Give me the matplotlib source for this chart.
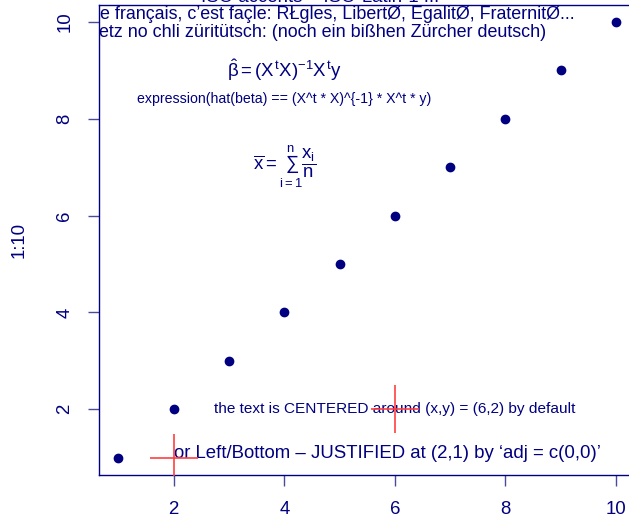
import matplotlib
matplotlib.use("Agg")
import matplotlib.pyplot as plt

plt.rcParams['font.family'] = ['Liberation Sans', 'DejaVu Sans']
plt.rcParams['mathtext.fontset'] = 'custom'
plt.rcParams['mathtext.rm'] = 'Liberation Sans'
plt.rcParams['mathtext.it'] = 'Liberation Sans'
plt.rcParams['mathtext.sf'] = 'Liberation Sans'

# donnees
x_vals = [1, 2, 3, 4, 5, 6, 7, 8, 9, 10]
y_vals = [1, 2, 3, 4, 5, 6, 7, 8, 9, 10]
cross_x = [6, 2]
cross_y = [2, 1]
ticks = [2, 4, 6, 8, 10]

titre = "ISO accents + ISO-Latin-1 ..."
ligne_fr = "Le français, c’est façle: RŁgles, LibertØ, EgalitØ, FraternitØ..."
ligne_de = "Jetz no chli züritütsch: (noch ein bißhen Zürcher deutsch)"
txt_centre = "the text is CENTERED around (x,y) = (6,2) by default"
txt_gauche = "or Left/Bottom – JUSTIFIED at (2,1) by ‘adj = c(0,0)’"
txt_expr = "expression(hat(beta) == (X^t * X)^{-1} * X^t * y)"
formule_beta = r"$\hat{\beta} = (X^tX)^{-1}X^ty$"
formule_xbar = r"$\overline{x} = \sum_{i=1}^{n}\dfrac{x_i}{n}$"

bleu = 'navy'
W, H = 629, 519
fs = 13.4

fig = plt.figure(figsize=(W / 100, H / 100), dpi=100)
# la boite depasse a droite comme dans l'original
ax = fig.add_axes([98.5 / W, (H - 475) / H, (636 - 98.5) / W, (475 - 4.6) / H])

ax.plot(x_vals, y_vals, 'o', color=bleu, ms=6, zorder=3)
ax.plot(cross_x, cross_y, '+', color='#ff4040', ms=34, mew=1.2, zorder=5)

ax.set_xlim(0.64, 10.36)
ax.set_ylim(0.64, 10.36)
ax.set_xticks(ticks)
ax.set_yticks(ticks)
for s in ax.spines.values():
    s.set_color(bleu)
    s.set_linewidth(1)
ax.tick_params(axis='both', direction='out', length=8, width=1, color='#4a4a9a',
               labelcolor=bleu, labelsize=fs)
ax.tick_params(axis='x', pad=11)
ax.tick_params(axis='y', pad=10)
for lab in ax.get_yticklabels():
    lab.set_rotation(90)
    lab.set_va('center')

ax.set_ylabel("1:10", color=bleu, fontsize=fs)
ax.yaxis.set_label_coords(-79 / 537.5, 0.5)
ax.yaxis.label.set_va('center')

# textes accentues (coupes par la boite a gauche)
ax.text(0.48, 10.07, ligne_fr, color=bleu, fontsize=12.9, ha='left', va='baseline', clip_on=True)
ax.text(0.49, 9.69, ligne_de, color=bleu, fontsize=12.9, ha='left', va='baseline', clip_on=True)

ax.text(4, 9, formule_beta, color=bleu, fontsize=fs, ha='center', va='center')
ax.text(4, 8.4, txt_expr, color=bleu, fontsize=10.2, ha='center', va='center')
ax.text(4, 7, formule_xbar, color=bleu, fontsize=fs, ha='center', va='center')

ax.text(6, 2, txt_centre, color=bleu, fontsize=11.1, ha='center', va='center')
ax.text(2, 1, txt_gauche, color=bleu, fontsize=fs, ha='left', va='baseline')

fig.text(320 / W, 1 - 2 / H, titre, color=bleu, fontsize=fs, ha='center', va='baseline')

fig.savefig("out.png", dpi=100)
